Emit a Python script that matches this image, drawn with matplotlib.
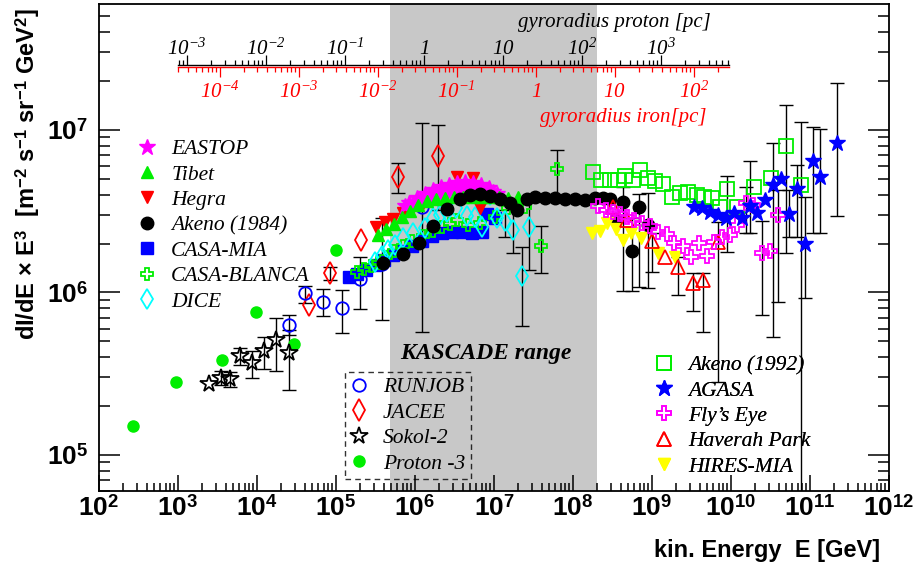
import numpy as np
import matplotlib
matplotlib.use("Agg")
import matplotlib.pyplot as plt
from matplotlib import font_manager
from matplotlib.font_manager import FontProperties
from matplotlib.ticker import LogLocator, FuncFormatter, NullFormatter

nan = np.nan

# ---------------- measurements: E [GeV], flux dI/dE*E^3, error-bar ends ----------------
proton3_E = [2.7e2, 9.4e2, 3.6e3, 9.7e3, 2.9e4, 1.0e5]
proton3_F = [1.51e5, 2.81e5, 3.84e5, 7.6e5, 4.8e5, 1.83e6]

sokol_E = [2.47e3, 3.5e3, 4.55e3, 6.1e3, 8.65e3, 1.23e4, 1.74e4, 2.54e4]
sokol_F = [2.74e5, 2.98e5, 2.94e5, 4.06e5, 3.68e5, 4.36e5, 5.11e5, 4.25e5]
sokol_lo = [nan, 2.70e5, 2.62e5, 3.58e5, 2.98e5, 3.38e5, 3.29e5, 2.51e5]
sokol_hi = [nan, 3.29e5, 3.24e5, 4.56e5, 4.36e5, 5.32e5, 6.97e5, 5.88e5]

runjob_E = [2.54e4, 4.06e4, 6.84e4, 1.19e5, 2.01e5, 3.82e5, 1.23e6]
runjob_F = [6.31e5, 9.93e5, 8.74e5, 8.03e5, 1.21e6, 1.50e6, 3.36e6]
runjob_lo = [5.47e5, 8.62e5, 7.17e5, 5.64e5, 7.91e5, 6.77e5, 5.72e5]
runjob_hi = [7.27e5, 1.10e6, 1.05e6, 1.04e6, 1.65e6, 2.87e6, 1.10e7]

jacee_E = [4.55e4, 8.39e4, 2.07e5, 6.10e5, 1.95e6]
jacee_F = [8.38e5, 1.32e6, 2.10e6, 5.14e6, 6.92e6]
jacee_lo = [nan, 1.19e6, nan, 4.09e6, 3.22e6]
jacee_hi = [nan, 1.44e6, nan, 6.26e6, 1.07e7]

casamia_E = [1.46e5, 1.85e5, 2.40e5, 3.12e5, 4.05e5, 5.27e5, 6.84e5, 9.16e5, 1.23e6,
             1.64e6, 2.20e6, 2.94e6, 3.94e6, 5.27e6, 7.05e6, 8.15e6, 1.03e7]
casamia_F = [1.25e6, 1.30e6, 1.38e6, 1.48e6, 1.58e6, 1.70e6, 1.80e6, 1.93e6, 2.07e6,
             2.23e6, 2.32e6, 2.36e6, 2.36e6, 2.32e6, 2.36e6, 3.04e6, 2.87e6]

casablanca_E = [1.85e5, 2.26e5, 2.77e5, 3.40e5, 4.30e5, 5.42e5, 7.05e5, 9.16e5, 1.26e6,
                1.69e6, 2.20e6, 2.77e6, 3.40e6, 4.69e6, 6.65e6, 1.03e7, 1.50e7, 1.95e7,
                2.47e7, 3.94e7, 6.27e7]
casablanca_F = [1.34e6, 1.40e6, 1.46e6, 1.52e6, 1.65e6, 1.80e6, 1.93e6, 2.07e6, 2.23e6,
                2.39e6, 2.53e6, 2.64e6, 2.79e6, 2.60e6, 2.68e6, 2.92e6, 3.31e6, 3.36e6,
                3.36e6, 1.93e6, 5.75e6]
casablanca_lo = [nan] * 19 + [1.32e6, 3.87e6]
casablanca_hi = [nan] * 19 + [2.57e6, 7.54e6]

dice_E = [3.12e5, 3.82e5, 4.55e5, 5.58e5, 7.05e5, 9.44e5, 1.34e6, 1.69e6, 2.07e6, 2.54e6,
          3.30e6, 4.55e6, 5.75e6, 7.05e6, 8.90e6, 1.09e7, 1.38e7, 1.74e7, 2.26e7, 2.77e7]
dice_F = [1.54e6, 1.68e6, 1.83e6, 1.96e6, 2.16e6, 2.32e6, 2.49e6, 2.87e6, 3.00e6, 3.13e6,
          3.31e6, 2.96e6, 2.92e6, 2.53e6, 3.98e6, 2.87e6, 2.75e6, 2.42e6, 1.26e6, 2.53e6]
dice_lo = [nan] * 16 + [2.20e6, 1.75e6, 6.22e5, 1.38e6]
dice_hi = [nan] * 16 + [3.22e6, 3.31e6, 1.91e6, 3.87e6]

eastop_E = [7.47e5, 8.39e5, 9.44e5, 1.06e6, 1.19e6, 1.34e6, 1.50e6, 1.69e6, 1.90e6, 2.13e6,
            2.40e6, 2.69e6, 3.03e6, 3.40e6, 3.83e6, 4.30e6, 4.83e6, 5.42e6, 6.10e6, 6.84e6,
            7.69e6, 8.65e6, 9.70e6, 1.09e7]
eastop_F = [3.41e6, 3.56e6, 3.56e6, 3.82e6, 3.76e6, 4.04e6, 3.93e6, 4.28e6, 4.09e6, 4.46e6,
            4.21e6, 4.59e6, 4.28e6, 4.72e6, 4.34e6, 4.79e6, 4.34e6, 4.72e6, 4.34e6, 4.59e6,
            4.28e6, 4.40e6, 4.15e6, 4.04e6]

tibet_E = [3.40e5, 4.30e5, 5.42e5, 6.84e5, 8.65e5, 1.09e6, 1.42e6, 1.84e6, 2.40e6, 3.12e6,
           4.05e6, 5.27e6, 6.84e6, 8.90e6, 1.16e7, 1.50e7, 2.01e7]
tibet_F = [2.26e6, 2.46e6, 2.64e6, 2.92e6, 3.18e6, 3.45e6, 3.66e6, 3.76e6, 3.82e6, 3.87e6,
           3.87e6, 3.87e6, 3.87e6, 3.87e6, 3.87e6, 3.82e6, 3.87e6]

hegra_E = [3.21e5, 4.17e5, 5.27e5, 7.05e5, 9.44e5, 1.26e6, 1.69e6, 2.26e6, 3.40e6, 5.42e6, 6.65e6]
hegra_F = [2.53e6, 2.72e6, 2.83e6, 3.08e6, 3.36e6, 3.56e6, 3.76e6, 3.93e6, 5.14e6, 5.07e6, 3.31e6]

akeno84_E = [3.93e5, 7.05e5, 1.12e6, 1.69e6, 2.54e6, 3.71e6, 4.97e6, 6.65e6, 8.90e6, 1.19e7,
             1.60e7, 1.95e7, 2.62e7, 3.30e7, 4.42e7, 5.92e7, 7.92e7, 1.06e8, 1.42e8, 1.90e8,
             2.40e8, 2.94e8, 3.50e8, 4.30e8, 5.58e8, 6.84e8, 8.90e8]
akeno84_F = [1.52e6, 1.73e6, 2.02e6, 2.57e6, 3.27e6, 3.76e6, 3.98e6, 4.04e6, 3.93e6, 3.76e6,
             3.56e6, 3.22e6, 3.76e6, 3.87e6, 3.82e6, 3.82e6, 3.76e6, 3.76e6, 3.71e6, 3.82e6,
             3.82e6, 3.76e6, 2.83e6, 3.61e6, 1.80e6, 3.36e6, 2.60e6]
akeno84_lo = [nan] * 23 + [1.02e6, 1.02e6, 1.08e6, 1.07e6]
akeno84_hi = [nan] * 23 + [4.46e6, 2.87e6, 4.04e6, 4.09e6]

akeno92_E = [1.79e8, 2.26e8, 2.94e8, 3.71e8, 4.55e8, 5.75e8, 7.05e8, 8.90e8, 1.09e9, 1.38e9,
             1.79e9, 2.26e9, 2.86e9, 3.71e9, 4.55e9, 5.75e9, 7.26e9, 8.90e9, 1.19e10, 1.95e10,
             3.21e10, 4.97e10, 7.69e10]
akeno92_F = [5.52e6, 4.92e6, 4.92e6, 4.92e6, 5.21e6, 4.92e6, 5.67e6, 5.07e6, 4.86e6, 4.65e6,
             3.87e6, 4.09e6, 4.15e6, 3.98e6, 3.87e6, 3.82e6, 3.36e6, 4.34e6, 3.36e6, 4.46e6,
             5.07e6, 7.97e6, 4.59e6]
akeno92_lo = [nan] * 17 + [1.78e6, nan, nan, nan, 1.75e6, 1.0e4]
akeno92_hi = [nan] * 17 + [5.21e6, nan, nan, nan, 1.43e7, 1.12e7]

agasa_E = [3.40e9, 4.30e9, 5.42e9, 6.84e9, 8.65e9, 1.09e10, 1.38e10, 1.74e10, 2.13e10,
           2.69e10, 3.40e10, 4.30e10, 5.42e10, 6.84e10, 8.65e10, 1.09e11, 1.34e11, 2.20e11]
agasa_F = [3.36e6, 3.31e6, 3.13e6, 3.00e6, 2.87e6, 3.08e6, 2.87e6, 3.41e6, 3.08e6,
           3.71e6, 4.59e6, 4.99e6, 3.04e6, 4.34e6, 1.99e6, 6.44e6, 5.14e6, 8.30e6]
agasa_lo = [nan] * 7 + [2.32e6, nan, nan, 5.32e5, nan, 2.20e6, 2.20e6, 9.26e5, 2.32e6, 2.32e6, 2.96e6]
agasa_hi = [nan] * 7 + [6.44e6, nan, nan, 8.30e6, nan, 4.28e6, 6.09e6, 3.87e6, 1.04e7, 1.01e7, 1.95e7]

flyseye_E = [2.07e8, 2.62e8, 3.21e8, 3.94e8, 4.83e8, 5.92e8, 7.47e8, 9.44e8, 1.19e9, 1.55e9,
             1.90e9, 2.47e9, 3.12e9, 3.94e9, 4.97e9, 6.10e9, 7.69e9, 9.70e9, 1.19e10, 1.55e10,
             1.90e10, 2.47e10, 3.12e10, 3.94e10]
flyseye_F = [3.41e6, 3.22e6, 3.13e6, 3.04e6, 2.92e6, 2.79e6, 2.68e6, 2.57e6, 2.36e6, 2.29e6,
             2.02e6, 1.93e6, 1.65e6, 2.02e6, 1.68e6, 2.05e6, 2.20e6, 2.26e6, 2.60e6, 3.56e6,
             3.45e6, 1.75e6, 1.80e6, 3.00e6]
flyseye_lo = [nan] * 19 + [2.32e6, nan, 7.27e5, nan, 8.74e5]
flyseye_hi = [nan] * 19 + [4.46e6, nan, 2.75e6, nan, 4.28e6]

haverah_E = [3.21e8, 4.83e8, 1.0e9, 1.46e9, 2.13e9, 3.30e9, 4.42e9, 6.84e9]
haverah_F = [3.36e6, 2.79e6, 2.07e6, 1.65e6, 1.44e6, 1.14e6, 1.19e6, 2.05e6]
haverah_lo = [nan, nan, 1.34e6, nan, 9.66e5, 7.69e5, 5.72e5, 2.81e5]
haverah_hi = [nan, nan, 2.32e6, nan, 1.65e6, 1.32e6, 1.32e6, 2.72e6]

hires_E = [1.74e8, 2.20e8, 2.69e8, 3.50e8, 4.30e8, 5.42e8, 7.26e8, 1.19e9, 1.95e9]
hires_F = [2.32e6, 2.39e6, 2.68e6, 2.46e6, 2.10e6, 2.32e6, 2.16e6, 1.75e6, 1.65e6]

# energy window of the KASCADE experiment [GeV]
kascade_range = (4.8e5, 2.0e8)

# gyroradius scales: proton energy with a 1 pc gyroradius, iron charge
proton_E_1pc = 1.3e6
iron_Z = 26

# ---------------- fonts ----------------
_names = {f.name for f in font_manager.fontManager.ttflist}
SANS = "Liberation Sans Narrow" if "Liberation Sans Narrow" in _names else "Liberation Sans"
SERIF = "Liberation Serif"

# bold sans for the power-of-ten labels, italic serif reached through \mathsf
plt.rcParams["mathtext.fontset"] = "custom"
plt.rcParams["mathtext.rm"] = SANS + ":bold"
plt.rcParams["mathtext.bf"] = SANS + ":bold"
plt.rcParams["mathtext.it"] = SERIF + ":italic"
plt.rcParams["mathtext.sf"] = SERIF + ":italic"

# ---------------- figure ----------------
fig = plt.figure(figsize=(9.2, 5.68), dpi=100)
ax = fig.add_axes([99 / 920, 77 / 568, 790 / 920, 487 / 568])
ax.set_xscale("log")
ax.set_yscale("log")
ax.set_xlim(1e2, 1e12)
ax.set_ylim(6.0e4, 5.96e7)

ax.axvspan(*kascade_range, color="#c8c8c8", lw=0, zorder=0)

RED, GREEN, BLUE = "#ff0000", "#00ee00", "#0000ff"
MAGENTA, CYAN, YELLOW = "#ff00ff", "#00ffff", "#ffff00"

series = [
    dict(name="Proton -3", E=proton3_E, F=proton3_F, m="o", c=GREEN, fill=True, ms=8),
    dict(name="Sokol-2", E=sokol_E, F=sokol_F, lo=sokol_lo, hi=sokol_hi, m="*", c="black", fill=False, ms=13),
    dict(name="JACEE", E=jacee_E, F=jacee_F, lo=jacee_lo, hi=jacee_hi, m="d", c=RED, fill=False, ms=11),
    dict(name="RUNJOB", E=runjob_E, F=runjob_F, lo=runjob_lo, hi=runjob_hi, m="o", c=BLUE, fill=False, ms=9),
    dict(name="CASA-MIA", E=casamia_E, F=casamia_F, m="s", c=BLUE, fill=True, ms=8),
    dict(name="CASA-BLANCA", E=casablanca_E, F=casablanca_F, lo=casablanca_lo, hi=casablanca_hi,
         m="P", c=GREEN, fill=False, ms=9),
    dict(name="DICE", E=dice_E, F=dice_F, lo=dice_lo, hi=dice_hi, m="d", c=CYAN, fill=False, ms=10),
    dict(name="Hegra", E=hegra_E, F=hegra_F, m="v", c=RED, fill=True, ms=9),
    dict(name="EASTOP", E=eastop_E, F=eastop_F, m="*", c=MAGENTA, fill=True, ms=12),
    dict(name="Tibet", E=tibet_E, F=tibet_F, m="^", c=GREEN, fill=True, ms=9),
    dict(name="Akeno (1984)", E=akeno84_E, F=akeno84_F, lo=akeno84_lo, hi=akeno84_hi,
         m="o", c="black", fill=True, ms=9),
    dict(name="Akeno (1992)", E=akeno92_E, F=akeno92_F, lo=akeno92_lo, hi=akeno92_hi,
         m="s", c=GREEN, fill=False, ms=10),
    dict(name="HIRES-MIA", E=hires_E, F=hires_F, m="v", c=YELLOW, fill=True, ms=9),
    dict(name="Haverah Park", E=haverah_E, F=haverah_F, lo=haverah_lo, hi=haverah_hi,
         m="^", c=RED, fill=False, ms=10),
    dict(name="Fly\u2019s Eye", E=flyseye_E, F=flyseye_F, lo=flyseye_lo, hi=flyseye_hi,
         m="P", c=MAGENTA, fill=False, ms=10),
    dict(name="AGASA", E=agasa_E, F=agasa_F, lo=agasa_lo, hi=agasa_hi, m="*", c=BLUE, fill=True, ms=12),
]

handles = {}
for k, s in enumerate(series):
    E = np.asarray(s["E"], float)
    F = np.asarray(s["F"], float)
    if "lo" in s:
        lo = np.asarray(s["lo"], float)
        hi = np.asarray(s["hi"], float)
        ok = ~np.isnan(lo)
        ax.errorbar(E[ok], F[ok], yerr=[F[ok] - lo[ok], hi[ok] - F[ok]], fmt="none",
                    ecolor="black", elinewidth=1.0, capsize=5, capthick=1.0, zorder=3)
    line, = ax.plot(E, F, ls="none", marker=s["m"], ms=s["ms"],
                    mfc=s["c"] if s["fill"] else "none", mec=s["c"],
                    mew=1.0 if s["fill"] else 1.3, zorder=4 + 0.01 * k)
    handles[s["name"]] = line

# ---------------- main axes styling ----------------
for sp in ax.spines.values():
    sp.set_linewidth(1.3)

fmt_pow = FuncFormatter(lambda v, p: r"$10^{%d}$" % int(round(np.log10(v))))
for axis in (ax.xaxis, ax.yaxis):
    axis.set_major_locator(LogLocator(base=10, numticks=20))
    axis.set_minor_locator(LogLocator(base=10, subs=np.arange(2, 10), numticks=200))
    axis.set_major_formatter(fmt_pow)
    axis.set_minor_formatter(NullFormatter())

ax.tick_params(axis="x", which="both", direction="in", bottom=True, top=False,
               width=1.1, labelsize=19, pad=3)
ax.tick_params(axis="x", which="major", length=11.5)
ax.tick_params(axis="x", which="minor", length=5.8)
ax.tick_params(axis="y", which="both", direction="in", left=True, right=True,
               width=1.1, labelsize=19, pad=8)
ax.tick_params(axis="y", which="major", length=15)
ax.tick_params(axis="y", which="minor", length=8)

fig.text(880 / 920, 1 - 550 / 568, "kin. Energy  E [GeV]", ha="right", va="center",
         fontsize=17, fontweight="bold", family=SANS)
fig.text(28 / 920, 1 - 8 / 568,
         r"dI/dE $\times$ E$^{3}$  [m$^{-2}$ s$^{-1}$ sr$^{-1}$ GeV$^{2}$]",
         rotation=90, ha="center", va="top", fontsize=17, fontweight="bold", family=SANS)

ax.text(0.381, 0.283, "KASCADE range", transform=ax.transAxes, ha="left", va="center",
        fontsize=17, fontweight="bold", style="italic", family=SERIF, zorder=6)

# ---------------- gyroradius scales ----------------
gx0, gw, gy = 0.10, 0.6975, 0.8747
lx0, lx1 = np.log10(ax.get_xlim())
e_left = 10 ** (lx0 + gx0 * (lx1 - lx0))
e_right = 10 ** (lx0 + (gx0 + gw) * (lx1 - lx0))


def gyro_label(v, pos):
    n = int(round(np.log10(v)))
    if n == 0:
        return r"$\mathsf{1}$"
    if n == 1:
        return r"$\mathsf{10}$"
    return r"$\mathsf{10}^{\mathsf{%d}}$" % n


def gyro_axis(y, E_1pc, color, side, pad):
    g = ax.inset_axes([gx0, y, gw, 1e-4])
    g.set_xscale("log")
    g.set_xlim(e_left / E_1pc, e_right / E_1pc)
    g.set_yticks([])
    g.patch.set_alpha(0)
    for name, sp in g.spines.items():
        sp.set_visible(name == side)
        sp.set_color(color)
        sp.set_linewidth(1.0)
    g.xaxis.set_ticks_position(side)
    g.xaxis.set_label_position(side)
    g.xaxis.set_major_locator(LogLocator(base=10, numticks=20))
    g.xaxis.set_minor_locator(LogLocator(base=10, subs=np.arange(2, 10), numticks=200))
    g.xaxis.set_major_formatter(FuncFormatter(gyro_label))
    g.xaxis.set_minor_formatter(NullFormatter())
    g.tick_params(axis="x", which="both", direction="out", color=color, labelcolor=color,
                  width=0.9, labelsize=15, pad=pad)
    g.tick_params(axis="x", which="major", length=7.2)
    g.tick_params(axis="x", which="minor", length=3.6)
    return g


gyro_axis(gy, proton_E_1pc, "black", "top", -2.5)
gyro_axis(gy - 1.5 / 487, proton_E_1pc * iron_Z, RED, "bottom", 3)

ax.text(0.652, 0.963, "gyroradius proton [pc]", transform=ax.transAxes, ha="center",
        va="center", fontsize=15, style="italic", family=SERIF, color="black")
ax.text(0.663, 0.766, "gyroradius iron[pc]", transform=ax.transAxes, ha="center",
        va="center", fontsize=15, style="italic", family=SERIF, color=RED)

# ---------------- legends ----------------
leg_font = FontProperties(family=SERIF, style="italic", size=15.5)
common = dict(prop=leg_font, numpoints=1, handlelength=0.8, handletextpad=0.72,
              labelspacing=0.25, borderaxespad=0, loc="upper left")

groups = [
    (["EASTOP", "Tibet", "Hegra", "Akeno (1984)", "CASA-MIA", "CASA-BLANCA", "DICE"],
     (0.0499, 0.7227), False),
    (["RUNJOB", "JACEE", "Sokol-2", "Proton -3"], (0.3114, 0.2444), True),
    (["Akeno (1992)", "AGASA", "Fly\u2019s Eye", "Haverah Park", "HIRES-MIA"],
     (0.704, 0.2792), False),
]
for names, anchor, framed in groups:
    leg = ax.legend([handles[n] for n in names], names, bbox_to_anchor=anchor,
                    frameon=framed, borderpad=0.25 if framed else 0, fancybox=False, **common)
    if framed:
        fr = leg.get_frame()
        fr.set_facecolor("none")
        fr.set_edgecolor("black")
        fr.set_linestyle((0, (4, 3)))
        fr.set_linewidth(1.0)
    leg.set_zorder(7)
    ax.add_artist(leg)

fig.savefig("out.png", dpi=100)
